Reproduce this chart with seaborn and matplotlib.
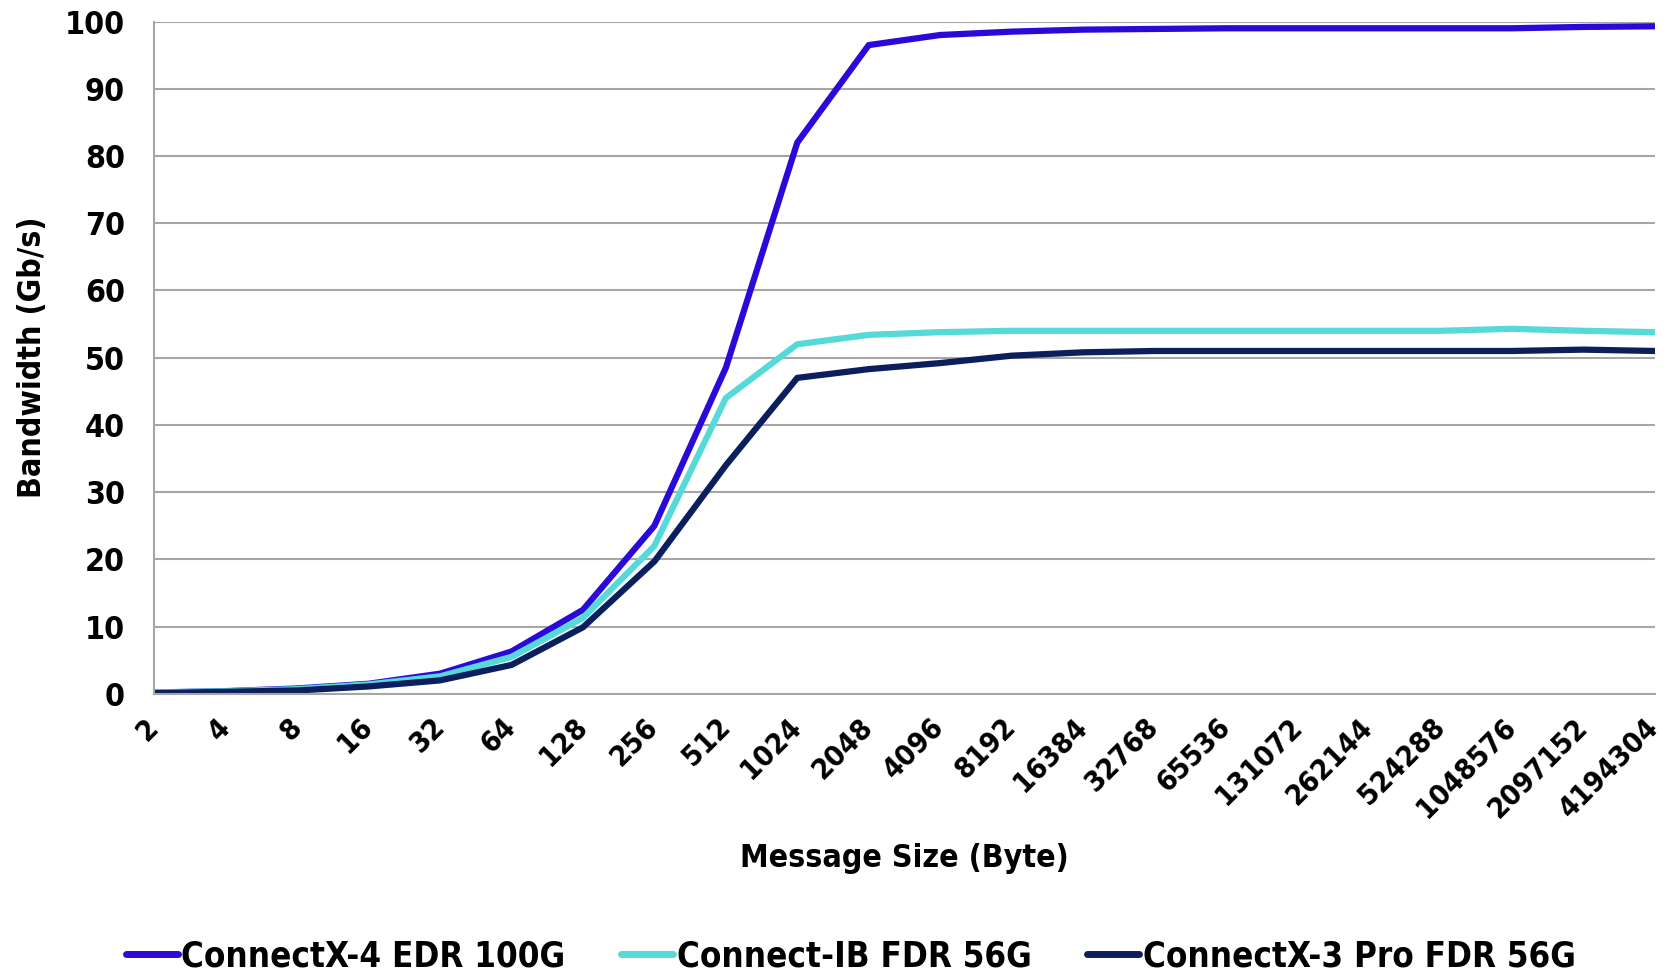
import matplotlib
matplotlib.use('Agg')
import matplotlib.pyplot as plt
import seaborn as sns
import pandas as pd

# message sizes (bytes), as category labels
sizes = ['2', '4', '8', '16', '32', '64', '128', '256', '512', '1024', '2048', '4096',
         '8192', '16384', '32768', '65536', '131072', '262144', '524288', '1048576',
         '2097152', '4194304']

# bandwidth Gb/s
cx4_edr = [0.2, 0.4, 0.8, 1.5, 3.0, 6.3, 12.5, 25.0, 48.5, 82.0, 96.5, 98.0,
           98.5, 98.8, 98.9, 99.0, 99.0, 99.0, 99.0, 99.0, 99.2, 99.3]
cib_fdr = [0.2, 0.4, 0.7, 1.4, 2.6, 5.5, 11.3, 22.0, 44.0, 52.0, 53.4, 53.8,
           54.0, 54.0, 54.0, 54.0, 54.0, 54.0, 54.0, 54.3, 54.0, 53.8]
cx3_fdr = [0.1, 0.3, 0.5, 1.1, 2.0, 4.3, 9.9, 19.7, 34.0, 47.0, 48.3, 49.2,
           50.3, 50.8, 51.0, 51.0, 51.0, 51.0, 51.0, 51.0, 51.2, 51.0]

names = ['ConnectX-4 EDR 100G', 'Connect-IB FDR 56G', 'ConnectX-3 Pro FDR 56G']
colors = ['#2a0ad8', '#55d9d9', '#0b1f5e']

df = pd.DataFrame({
    'size': sizes * 3,
    'bw': cx4_edr + cib_fdr + cx3_fdr,
    'card': [names[0]] * len(sizes) + [names[1]] * len(sizes) + [names[2]] * len(sizes),
})

sns.set_style('white')
plt.rcParams['font.family'] = ['DejaVu Sans']
plt.rcParams['font.stretch'] = 'condensed'
plt.rcParams['font.weight'] = 'bold'
plt.rcParams['text.color'] = 'black'
plt.rcParams['xtick.color'] = 'black'
plt.rcParams['ytick.color'] = 'black'
plt.rcParams['axes.labelcolor'] = 'black'

fig = plt.figure(figsize=(16.68, 9.8), dpi=100)
ax = fig.add_axes([0.0925, 0.292, 0.8995, 0.686])

sns.lineplot(data=df, x='size', y='bw', hue='card', palette=colors, linewidth=4.5,
             sort=False, ax=ax)

ax.set_xlim(0, len(sizes) - 1)
ax.set_ylim(0, 100)
ax.set_yticks(range(0, 101, 10))
ax.yaxis.grid(True, color='#a6a6a6', linewidth=1.5)
ax.set_axisbelow(True)
for s in ['top', 'right']:
    ax.spines[s].set_visible(False)
for s in ['left', 'bottom']:
    ax.spines[s].set_color('#a6a6a6')
    ax.spines[s].set_linewidth(1.5)

ax.tick_params(axis='both', direction='out', length=7, width=1.5, color='#a6a6a6',
               labelcolor='black')
ax.tick_params(axis='x', pad=14, labelsize=21)
ax.tick_params(axis='y', pad=14, labelsize=23)
ax.set_xticks(range(len(sizes)))
ax.set_xticklabels(sizes, rotation=45, ha='right', va='center', rotation_mode='anchor',
                   fontweight='bold')
for lab in ax.get_yticklabels():
    lab.set_fontweight('bold')

ax.set_xlabel('Message Size (Byte)', fontsize=23, fontweight='bold', labelpad=14)
ax.set_ylabel('Bandwidth (Gb/s)', fontsize=23, fontweight='bold', labelpad=12)

handles, labels = ax.get_legend_handles_labels()
ax.legend_.remove()
leg = fig.legend(handles, labels, loc='lower center', bbox_to_anchor=(0.51, -0.025), ncol=3,
                 frameon=False, handlelength=1.5, handletextpad=0.1,
                 columnspacing=1.6, prop={'weight': 'bold', 'size': 25, 'stretch': 'condensed'})
for h in leg.get_lines():
    h.set_linewidth(5)

fig.savefig('out.png', dpi=100)
